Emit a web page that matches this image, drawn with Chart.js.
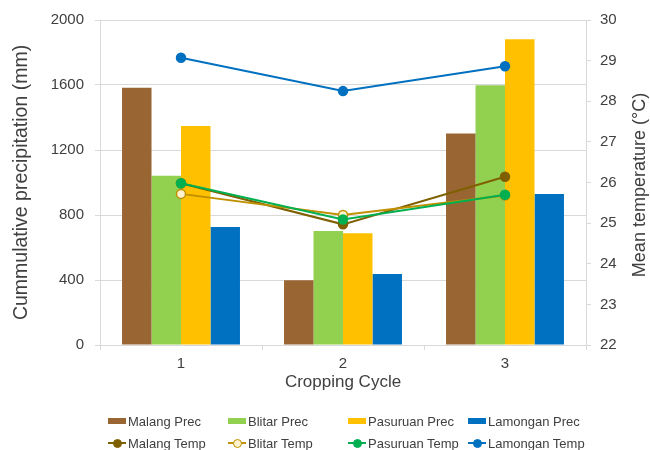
<!DOCTYPE html>
<html>
<head>
<meta charset="utf-8">
<script src="https://cdn.jsdelivr.net/npm/chart.js@4"></script>
<style>
  html, body { margin: 0; padding: 0; background: #ffffff; }
  #wrap { position: relative; width: 650px; height: 450px; }
  #c { position: absolute; left: 0; top: 0; }
  #legend { position: absolute; left: 108px; top: 410px; display: grid;
    grid-template-columns: 120px 120px 120px 120px; grid-auto-rows: 22px;
    font-family: "Liberation Sans", Arial, sans-serif; font-size: 13px; color: #404040; }
  .item { display: flex; align-items: center; white-space: nowrap; }
  .sw { position: relative; width: 18px; height: 10px; margin-right: 2px; flex: none; }
  .bar { position: absolute; left: 0; top: 2px; width: 18px; height: 6px; }
  .ln { position: absolute; left: 0; top: 4px; width: 18px; height: 2px; }
  .dot { position: absolute; left: 4.5px; top: 0.5px; width: 9px; height: 9px; border-radius: 50%; box-sizing: border-box; }
  #rtitle { position: absolute; left: 489px; top: 174px; width: 300px; height: 22px; line-height: 22px;
    text-align: center; transform: rotate(-90deg); transform-origin: 50% 50%;
    font-family: "Liberation Sans", Arial, sans-serif; font-size: 18px; color: #404040; white-space: nowrap; }
</style>
</head>
<body>
<div id="wrap">
  <canvas id="c" width="650" height="450"></canvas>
  <div id="rtitle">Mean temperature (°C)</div>
  <div id="legend"></div>
</div>
<script>
const categories = ["1", "2", "3"];
const malangPrec = [1583, 399, 1302];
const blitarPrec = [1042, 702, 1599];
const pasuruanPrec = [1347, 688, 1882];
const lamonganPrec = [726, 437, 930];
const malangTemp = [25.98, 24.97, 26.14];
const blitarTemp = [25.72, 25.20, 25.68];
const pasuruanTemp = [25.98, 25.09, 25.70];
const lamonganTemp = [29.07, 28.25, 28.86];
const precTicks = [0, 400, 800, 1200, 1600, 2000];
const tempTicks = [22, 23, 24, 25, 26, 27, 28, 29, 30];

const FONT = "'Liberation Sans', Arial, sans-serif";
const TXT = '#404040';
const GRID = '#D9D9D9';

function barDs(label, data, color) {
  return { type: 'bar', label, data, backgroundColor: color, borderWidth: 0, yAxisID: 'y', order: 10 };
}
function lineDs(label, data, color, fill, order) {
  return { type: 'line', label, data, borderColor: color, backgroundColor: color, borderWidth: 2,
    pointRadius: 4.5, pointBackgroundColor: fill, pointBorderColor: color, pointBorderWidth: 1.5,
    tension: 0, yAxisID: 'y1', order };
}

const datasets = [
  barDs('Malang Prec', malangPrec, '#996633'),
  barDs('Blitar Prec', blitarPrec, '#92D050'),
  barDs('Pasuruan Prec', pasuruanPrec, '#FFC000'),
  barDs('Lamongan Prec', lamonganPrec, '#0070C0'),
  lineDs('Malang Temp', malangTemp, '#7F6000', '#7F6000', 4),
  lineDs('Blitar Temp', blitarTemp, '#BF9000', '#FFF2CC', 3),
  lineDs('Pasuruan Temp', pasuruanTemp, '#00B050', '#00B050', 2),
  lineDs('Lamongan Temp', lamonganTemp, '#0070C0', '#0070C0', 1)
];

new Chart(document.getElementById('c'), {
  type: 'bar',
  data: { labels: categories, datasets },
  options: {
    responsive: false,
    animation: false,
    layout: { padding: { top: 18, bottom: 50, left: 0, right: 0 } },
    plugins: { legend: { display: false }, tooltip: { enabled: false } },
    datasets: { bar: { categoryPercentage: 0.728, barPercentage: 1.0 } },
    scales: {
      x: {
        grid: { offset: true, drawOnChartArea: false, drawTicks: true, tickLength: 5, color: GRID },
        border: { color: GRID },
        ticks: { font: { family: FONT, size: 15 }, color: TXT, padding: 5 },
        title: { display: true, text: 'Cropping Cycle', font: { family: FONT, size: 17 }, color: TXT, padding: { top: 0, bottom: 7 } },
        afterFit: s => { s.height = 55; }
      },
      y: {
        position: 'left', min: precTicks[0], max: precTicks[precTicks.length - 1],
        afterBuildTicks: s => { s.ticks = precTicks.map(v => ({ value: v })); },
        grid: { color: GRID, tickLength: 5 },
        border: { color: GRID },
        ticks: { font: { family: FONT, size: 15 }, color: TXT, padding: 11, callback: v => String(v) },
        title: { display: true, text: 'Cummulative precipitation (mm)', font: { family: FONT, size: 19.5 }, color: TXT, padding: { top: 10, bottom: 0 } },
        afterFit: s => { s.width = 100; }
      },
      y1: {
        position: 'right', min: tempTicks[0], max: tempTicks[tempTicks.length - 1],
        afterBuildTicks: s => { s.ticks = tempTicks.map(v => ({ value: v })); },
        grid: { drawOnChartArea: false, color: GRID, tickLength: 5 },
        border: { color: GRID },
        ticks: { font: { family: FONT, size: 15 }, color: TXT, padding: 9, callback: v => String(v) },
        title: { display: false },
        afterFit: s => { s.width = 64; }
      }
    }
  }
});

// HTML legend
const leg = document.getElementById('legend');
datasets.forEach(ds => {
  const item = document.createElement('div');
  item.className = 'item';
  const sw = document.createElement('span');
  sw.className = 'sw';
  if (ds.type === 'bar') {
    const b = document.createElement('span');
    b.className = 'bar';
    b.style.background = ds.backgroundColor;
    sw.appendChild(b);
  } else {
    const l = document.createElement('span');
    l.className = 'ln';
    l.style.background = ds.borderColor;
    const d = document.createElement('span');
    d.className = 'dot';
    d.style.background = ds.pointBackgroundColor;
    d.style.border = '1.5px solid ' + ds.borderColor;
    sw.appendChild(l);
    sw.appendChild(d);
  }
  const t = document.createElement('span');
  t.textContent = ds.label;
  item.appendChild(sw);
  item.appendChild(t);
  leg.appendChild(item);
});
</script>
</body>
</html>
